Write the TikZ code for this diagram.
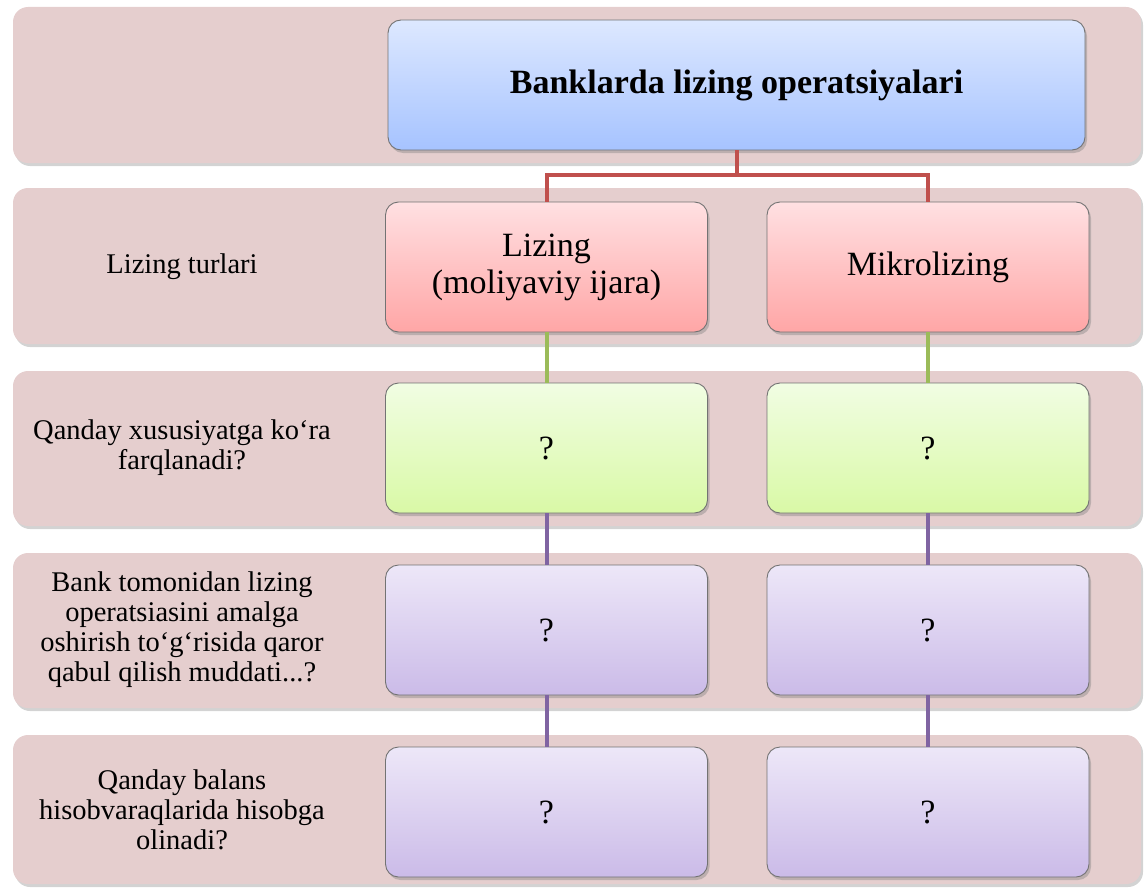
\documentclass[tikz,border=0pt]{standalone}
\usepackage{fontspec}
\setmainfont{Liberation Serif}
\newfontfamily\timesfont{Liberation Serif}
\usetikzlibrary{shadows}

\definecolor{bandpink}{HTML}{E5CECE}
\definecolor{linered}{HTML}{C0504D}
\definecolor{linegreen}{HTML}{9BBB59}
\definecolor{linepurple}{HTML}{8064A2}
\definecolor{bluetop}{HTML}{DDE8FF}
\definecolor{bluebot}{HTML}{A6C3FF}
\definecolor{redtop}{HTML}{FFE0E2}
\definecolor{redbot}{HTML}{FFA6A6}
\definecolor{greentop}{HTML}{F1FDE3}
\definecolor{greenbot}{HTML}{D9F9A6}
\definecolor{purpletop}{HTML}{EDE7F8}
\definecolor{purplebot}{HTML}{CBBBE8}

\tikzset{
    band/.style={fill=bandpink, rounded corners=15pt,
        drop shadow={shadow xshift=2pt, shadow yshift=-3pt, opacity=0.35}},
    bandlabel/.style={align=center, font=\timesfont\fontsize{28.5}{30}\selectfont},
    box/.style={draw=black!55, line width=0.9pt, rounded corners=13pt,
        minimum width=322pt, minimum height=130pt, align=center,
        font=\timesfont\fontsize{34}{37}\selectfont,
        drop shadow={shadow xshift=2pt, shadow yshift=-3pt, opacity=0.4}},
    bluebox/.style={box, top color=bluetop, bottom color=bluebot},
    redbox/.style={box, top color=redtop, bottom color=redbot},
    greenbox/.style={box, top color=greentop, bottom color=greenbot},
    purplebox/.style={box, top color=purpletop, bottom color=purplebot},
    link/.style={line width=4pt}
}

\begin{document}
\begin{tikzpicture}[x=1pt, y=-1pt]
    \useasboundingbox (0,0) rectangle (1145,888);

    % Add the five background bands
    \path[band] (13,7) rectangle (1141,163);
    \path[band] (13,188) rectangle (1141,344);
    \path[band] (13,371) rectangle (1141,526);
    \path[band] (13,553) rectangle (1141,708);
    \path[band] (13,735) rectangle (1141,884);

    % Add the row labels
    \node[bandlabel] (lturlari) at (182,267) {Lizing turlari};
    \node[bandlabel] (lfarq) at (182,448) {Qanday xususiyatga ko‘ra\\farqlanadi?};
    \node[bandlabel] (lmuddat) at (182,630) {Bank tomonidan lizing\\operatsiasini amalga\\oshirish to‘g‘risida qaror\\qabul qilish muddati...?};
    \node[bandlabel] (lbalans) at (182,810) {Qanday balans\\hisobvaraqlarida hisobga\\olinadi?};

    % Add the title box
    \node[bluebox, minimum width=697pt, font=\timesfont\bfseries\fontsize{34}{37}\selectfont]
        (title) at (736.5,85) {Banklarda lizing operatsiyalari};

    % Add the two kinds of leasing
    \node[redbox] (lizing) at (546.5,267) {Lizing\\(moliyaviy ijara)};
    \node[redbox] (mikro) at (928,267) {Mikrolizing};

    % Add the question boxes
    \node[greenbox] (farqa) at (546.5,448) {?};
    \node[greenbox] (farqb) at (928,448) {?};
    \node[purplebox] (muddata) at (546.5,630) {?};
    \node[purplebox] (muddatb) at (928,630) {?};
    \node[purplebox] (balansa) at (546.5,812) {?};
    \node[purplebox] (balansb) at (928,812) {?};

    % Add the connectors
    \draw[link, linered] (title.south) -- ++(0,25) -| (lizing.north);
    \draw[link, linered] (title.south) -- ++(0,25) -| (mikro.north);
    \draw[link, linegreen] (lizing.south) -- (farqa.north);
    \draw[link, linegreen] (mikro.south) -- (farqb.north);
    \draw[link, linepurple] (farqa.south) -- (muddata.north);
    \draw[link, linepurple] (farqb.south) -- (muddatb.north);
    \draw[link, linepurple] (muddata.south) -- (balansa.north);
    \draw[link, linepurple] (muddatb.south) -- (balansb.north);
\end{tikzpicture}
\end{document}
